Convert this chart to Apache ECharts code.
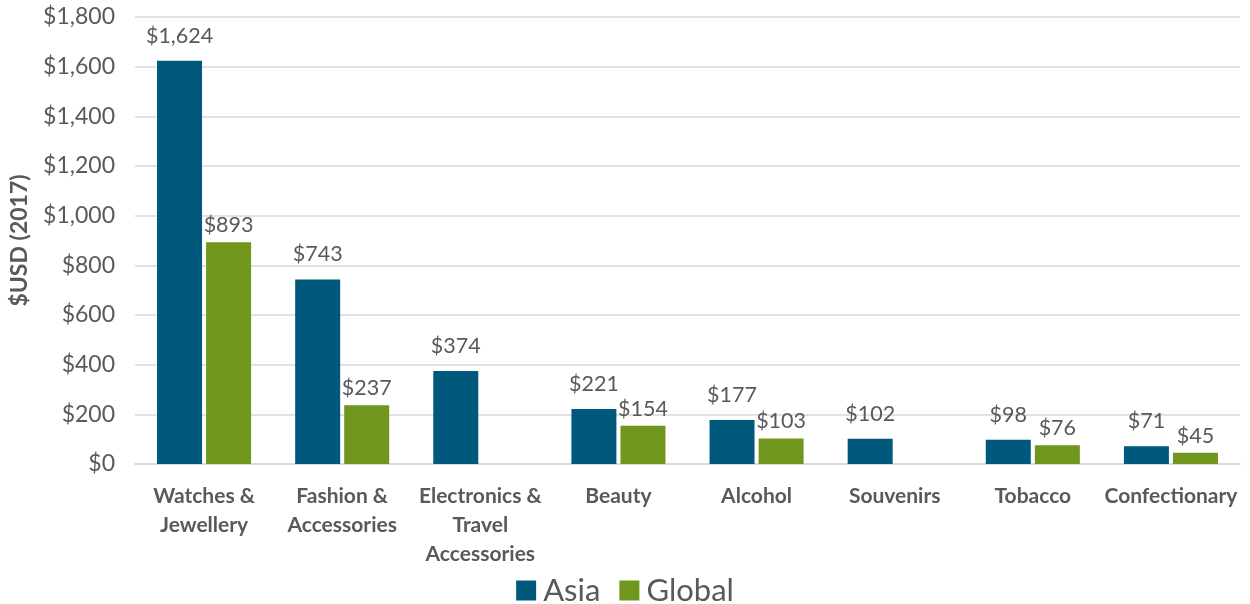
<!DOCTYPE html>
<html>
<head>
<meta charset="utf-8">
<script src="https://cdn.jsdelivr.net/npm/echarts@6/dist/echarts.min.js"></script>
<style>
  html, body { margin: 0; padding: 0; background: #fff; }
  #chart { width: 1250px; height: 604px; }
</style>
</head>
<body>
<div id="chart"></div>
<script>
// Average spend per category, $USD (2017)
const categories = [
  'Watches &\nJewellery',
  'Fashion &\nAccessories',
  'Electronics &\nTravel\nAccessories',
  'Beauty',
  'Alcohol',
  'Souvenirs',
  'Tobacco',
  'Confectionary'
];
const asiaValues = [1624, 743, 374, 221, 177, 102, 98, 71];
const globalValues = [893, 237, null, 154, 103, null, 76, 45];
const seriesNames = ['Asia', 'Global'];

const FONT = 'Lato, "Open Sans", sans-serif';
const TEXT = '#595959';

function money(v) {
  return '$' + Number(v).toLocaleString('en-US');
}

const chart = echarts.init(document.getElementById('chart'));
chart.setOption({
  animation: false,
  textStyle: { fontFamily: FONT },
  grid: { left: 133, right: 10, top: 17, bottom: 140, containLabel: false },
  legend: {
    data: seriesNames,
    top: 575,
    left: 'center',
    padding: 0,
    itemWidth: 20,
    itemHeight: 20,
    itemGap: 19,
    icon: 'rect',
    textStyle: { fontSize: 31, color: TEXT, fontFamily: FONT, padding: [0, 0, 0, 2] }
  },
  xAxis: {
    type: 'category',
    data: categories,
    axisLine: { lineStyle: { color: '#d9d9d9', width: 1.5 } },
    axisTick: { show: false },
    axisLabel: {
      interval: 0,
      margin: 18,
      fontSize: 21,
      fontWeight: 'bold',
      color: TEXT,
      lineHeight: 29,
      fontFamily: FONT
    }
  },
  yAxis: {
    type: 'value',
    min: 0,
    max: 1800,
    interval: 200,
    name: '$USD (2017)',
    nameLocation: 'middle',
    nameGap: 104,
    nameTextStyle: { fontSize: 23, fontWeight: 'bold', color: TEXT, fontFamily: FONT },
    axisLine: { show: false },
    axisTick: { show: false },
    splitLine: { lineStyle: { color: '#d9d9d9', width: 1.5 } },
    axisLabel: {
      formatter: money,
      fontSize: 23,
      color: TEXT,
      margin: 20,
      fontFamily: FONT
    }
  },
  series: [
    {
      name: seriesNames[0],
      type: 'bar',
      data: asiaValues,
      barWidth: 45,
      barGap: '9%',
      itemStyle: { color: '#00587c' },
      label: {
        show: true,
        position: 'top',
        distance: 14,
        formatter: p => money(p.value),
        fontSize: 21.5,
        color: TEXT,
        fontFamily: FONT
      }
    },
    {
      name: seriesNames[1],
      type: 'bar',
      data: globalValues,
      barWidth: 45,
      itemStyle: { color: '#70961e' },
      label: {
        show: true,
        position: 'top',
        distance: 6,
        formatter: p => money(p.value),
        fontSize: 21.5,
        color: TEXT,
        fontFamily: FONT
      }
    }
  ]
});
</script>
</body>
</html>
